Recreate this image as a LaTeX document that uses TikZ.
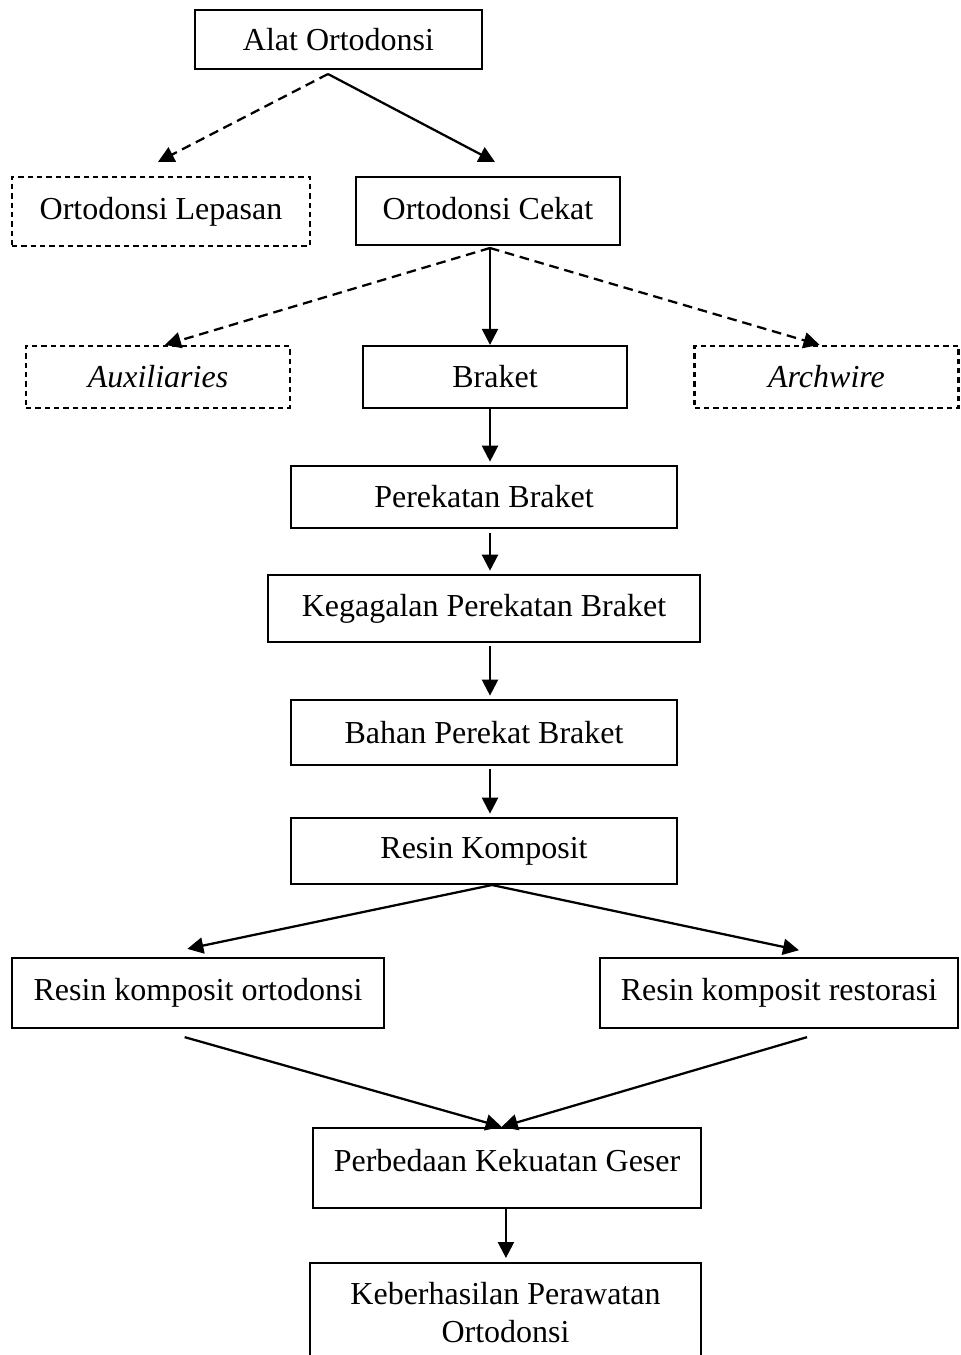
\documentclass[tikz,border=0pt]{standalone}
\usepackage{fontspec}
\setmainfont{Liberation Serif}
\usetikzlibrary{arrows.meta}

\begin{document}
\begin{tikzpicture}[x=0.375pt, y=-0.375pt, line width=0.85pt,
    box/.style={draw, inner sep=0pt, font=\fontsize{12pt}{14.6pt}\selectfont},
    dbox/.style={box, dash pattern=on 2pt off 1.5pt},
    arr/.style={-{Triangle[length=6pt,width=6pt]}},
    darr/.style={arr, dash pattern=on 3.6pt off 2.2pt}]
  \useasboundingbox (0, 0) rectangle (960, 1355);

  \node [box, minimum width=107.6pt, minimum height=22.1pt] (alat) at (338.5, 39.5) {Alat Ortodonsi};
  \node [dbox, minimum width=111.75pt, minimum height=25.9pt] (lepasan) at (161, 211.5) {Ortodonsi Lepasan};
  \node [box, minimum width=99pt, minimum height=25.5pt, text depth=2pt] (cekat) at (488, 211) {Ortodonsi Cekat};

  \node [dbox, minimum width=99pt, minimum height=23.25pt] (aux) at (158, 377) {\itshape Auxiliaries};
  \node [box, minimum width=99pt, minimum height=23.25pt] (braket) at (495, 377) {Braket};
  \node [dbox, minimum width=99pt, minimum height=23.25pt] (archwire) at (826.5, 377) {\itshape Archwire};

  \node [box, minimum width=144.75pt, minimum height=23.25pt] (perekatan) at (484, 497) {Perekatan Braket};
  \node [box, minimum width=162pt, minimum height=25.1pt] (gagal) at (484, 608.5) {Kegagalan Perekatan Braket};
  \node [box, minimum width=144.75pt, minimum height=24.4pt] (bahan) at (484, 732.5) {Bahan Perekat Braket};
  \node [box, minimum width=144.75pt, minimum height=24.75pt] (resin) at (484, 851) {Resin Komposit};

  \node [box, minimum width=139.5pt, minimum height=26.25pt, text depth=3pt] (orto) at (198, 993) {Resin komposit ortodonsi};
  \node [box, minimum width=134.25pt, minimum height=26.25pt, text depth=3pt] (resto) at (779, 993) {Resin komposit restorasi};

  \node [box, minimum width=145.5pt, minimum height=30pt, text depth=6pt] (geser) at (507, 1168) {Perbedaan Kekuatan Geser};
  \node [box, minimum width=146.6pt, inner ysep=7pt, align=center, text depth=9pt, anchor=north] (hasil) at (505.5, 1262) {Keberhasilan Perawatan\\Ortodonsi};

  % cabang-cabang
  \coordinate (alatfork) at (328, 74);
  \coordinate (cekatfork) at (490, 248);
  \coordinate (resinfork) at (492, 885);
  \coordinate (spine) at (490, 0);

  \draw [darr] (alatfork) -- ([xshift=-1.1pt, yshift=5.25pt]lepasan.north);
  \draw [arr] (alatfork) -- ([xshift=2.6pt, yshift=5.25pt]cekat.north);

  \draw [darr] (cekatfork) -- ([xshift=2.6pt]aux.north);
  \draw [arr] (cekatfork) -- (braket.north -| spine);
  \draw [darr] (cekatfork) -- ([xshift=-2.6pt]archwire.north);

  \draw [arr] (braket.south -| spine) -- ([yshift=1.2pt]perekatan.north -| spine);
  \draw [arr] ([yshift=-1.5pt]perekatan.south -| spine) -- ([yshift=1.2pt]gagal.north -| spine);
  \draw [arr] ([yshift=-1.2pt]gagal.south -| spine) -- ([yshift=1.2pt]bahan.north -| spine);
  \draw [arr] ([yshift=-1.2pt]bahan.south -| spine) -- ([yshift=1.2pt]resin.north -| spine);

  \draw [arr] (resinfork) -- ([xshift=-4pt, yshift=3pt]orto.north);
  \draw [arr] (resinfork) -- ([xshift=7.5pt, yshift=2.5pt]resto.north);

  \draw [arr] ([xshift=-5pt, yshift=-3pt]orto.south) -- ([xshift=-2pt]geser.north);
  \draw [arr] ([xshift=10.5pt, yshift=-3pt]resto.south) -- ([xshift=-2pt]geser.north);

  \draw [arr] ([xshift=-0.4pt]geser.south) -- ([xshift=-0.4pt, yshift=1.5pt]hasil.north -| geser.south);
\end{tikzpicture}
\end{document}
